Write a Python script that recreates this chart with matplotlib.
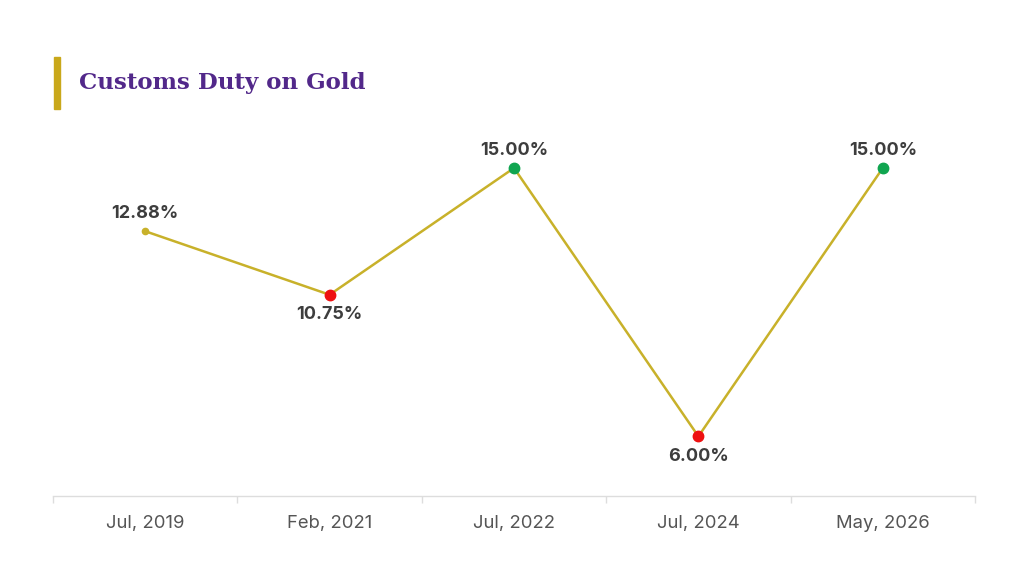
import matplotlib
matplotlib.use("Agg")
import matplotlib.pyplot as plt
from matplotlib.patches import Rectangle

categories = ["Jul, 2019", "Feb, 2021", "Jul, 2022", "Jul, 2024", "May, 2026"]
values = [12.88, 10.75, 15.00, 6.00, 15.00]
labels = ["12.88%", "10.75%", "15.00%", "6.00%", "15.00%"]
title = "Customs Duty on Gold"

W, H = 1024, 576
fig = plt.figure(figsize=(W / 100, H / 100), dpi=100)
fig.patch.set_facecolor("white")

line_color = "#c8b12a"
red = "#ee1111"
green = "#10a550"

ax = fig.add_axes([53 / W, (H - 496) / H, (975 - 53) / W, (496 - 120) / H])
x = list(range(len(values)))
ax.plot(x, values, color=line_color, lw=1.8, zorder=2)

for i, v in enumerate(values):
    if i == 0:
        ax.plot(i, v, "o", color=line_color, ms=4.5, zorder=3)
        up = True
    else:
        up = v >= values[i - 1]
        ax.plot(i, v, "o", color=green if up else red, ms=7.5, zorder=3)
    ax.annotate(labels[i], (i, v), xytext=(0, 18 if up else -20), textcoords="offset pixels",
                ha="center", va="center", fontsize=13, fontweight="bold",
                color="#3d3d3d", family="Inter")

ax.set_xlim(-0.5, len(values) - 0.5)
ax.set_ylim(4.0, 16.61)
for s in ["top", "right", "left"]:
    ax.spines[s].set_visible(False)
ax.spines["bottom"].set_color("#dddddd")
ax.spines["bottom"].set_linewidth(1)
ax.set_yticks([])
ax.set_xticks(x)
ax.set_xticklabels(categories, fontsize=13.3, color="#555555", family="Inter")
ax.tick_params(axis="x", which="major", length=0, pad=14)
ax.set_xticks([i - 0.5 for i in range(len(values) + 1)], minor=True)
ax.tick_params(axis="x", which="minor", length=5, color="#dddddd", width=1, direction="out")

fig.patches.append(Rectangle((54 / W, (H - 109) / H), 6 / W, 52 / H,
                             transform=fig.transFigure, color="#c9a81a", zorder=5))
fig.text(79 / W, (H - 83) / H, title, fontsize=16.5, fontweight="bold",
         color="#52288a", family="DejaVu Serif", ha="left", va="center")

fig.savefig("out.png", dpi=100, facecolor="white")
